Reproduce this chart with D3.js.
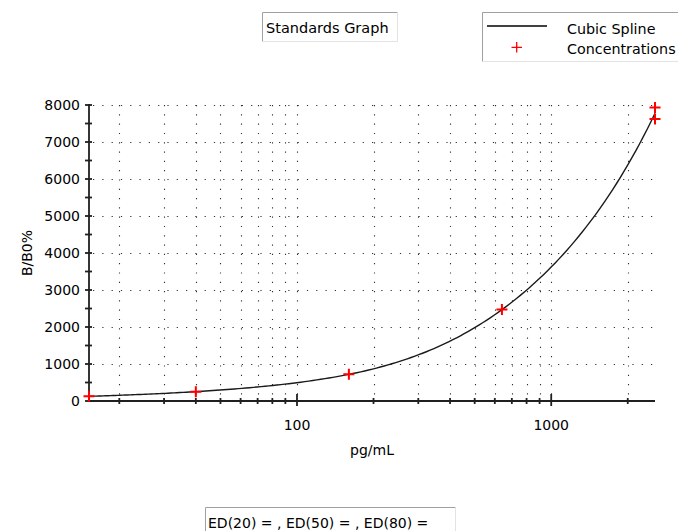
<!DOCTYPE html>
<html>
<head>
<meta charset="utf-8">
<script src="https://cdn.jsdelivr.net/npm/d3@7"></script>
<style>
    html, body { margin: 0; padding: 0; background: #fff; }
    svg { display: block; font-family: "DejaVu Sans", sans-serif; }
</style>
</head>
<body>
<svg id="chart" width="678" height="531"></svg>
<script>
// Standards (pg/mL) and measured response
const stdConc = [15.2, 40, 160, 640, 2560, 2560];
const stdResp = [127, 253, 720, 2470, 7930, 7620];

// Spline knots (replicate mean at the top standard)
const knotConc = [15.2, 40, 160, 640, 2560];
const knotResp = [127, 253, 720, 2470, 7775];

const yTickValues = [0, 1000, 2000, 3000, 4000, 5000, 6000, 7000, 8000];
const yMinorValues = [500, 1500, 2500, 3500, 4500, 5500, 6500, 7500];
const xMajorValues = [100, 1000];
const xMinorValues = [20, 30, 40, 50, 60, 70, 80, 90, 200, 300, 400, 500, 600, 700, 800, 900, 2000];

const titleText = 'Standards Graph';
const legendItems = ['Cubic Spline', 'Concentrations'];
const footerText = 'ED(20) = , ED(50) = , ED(80) =';

const svg = d3.select('#chart');
const axisColor = '#202020';

const x = d3.scaleLog().domain([15.2, 2560]).range([89, 655]);
const y = d3.scaleLinear().domain([0, 8000]).range([401, 105]);

// Sunken-looking text boxes
function box(x0, y0, w, h) {
    const g = svg.append('g');
    g.append('rect').attr('x', x0).attr('y', y0).attr('width', w).attr('height', h).attr('fill', '#fff');
    g.append('path').attr('d', `M${x0},${y0 + h}V${y0}H${x0 + w}`)
        .attr('stroke', '#a0a0a0').attr('fill', 'none');
    g.append('path').attr('d', `M${x0 + w},${y0}V${y0 + h}H${x0}`)
        .attr('stroke', '#e3e3e3').attr('fill', 'none');
    return g;
}

// Title
box(262.5, 12.5, 135, 29);
svg.append('text').attr('x', 266).attr('y', 33).attr('font-size', 14.5).attr('fill', '#000').text(titleText);

// Legend
const lg = box(482.5, 12.5, 210, 49);
lg.append('line').attr('x1', 487).attr('x2', 547).attr('y1', 26).attr('y2', 26)
    .attr('stroke', '#000').attr('stroke-width', 1.3);
lg.append('path').attr('d', 'M511.5,47.3H522M516.7,42V52.5')
    .attr('stroke', '#ff0000').attr('stroke-width', 1.3);
lg.selectAll('text.leg').data(legendItems).join('text')
    .attr('class', 'leg')
    .attr('x', 567).attr('y', (d, i) => 33.5 + i * 20.5)
    .attr('font-size', 14.3).attr('fill', '#000')
    .text(d => d);

// Grid (dotted)
const grid = svg.append('g').attr('stroke', '#303030').attr('stroke-width', 1.1)
    .attr('stroke-dasharray', '1.2,8.1');
grid.selectAll('line.v').data(xMinorValues.concat(xMajorValues)).join('line')
    .attr('class', 'v')
    .attr('x1', d => Math.round(x(d)) + 0.5).attr('x2', d => Math.round(x(d)) + 0.5)
    .attr('y1', y(8000)).attr('y2', y(0));
grid.selectAll('line.h').data(yTickValues.slice(1)).join('line')
    .attr('class', 'h')
    .attr('x1', x.range()[0] + 4).attr('x2', x.range()[1])
    .attr('y1', d => Math.round(y(d)) + 0.5).attr('y2', d => Math.round(y(d)) + 0.5);

// Y axis
const yAxis = svg.append('g').attr('stroke', axisColor).attr('stroke-width', 1.8);
yAxis.append('line').attr('x1', 89).attr('x2', 89).attr('y1', y(8000) - 1).attr('y2', y(0) + 1);
yAxis.selectAll('line.t').data(yTickValues.concat(yMinorValues)).join('line')
    .attr('class', 't')
    .attr('x1', 85).attr('x2', 92)
    .attr('y1', d => y(d)).attr('y2', d => y(d));
svg.append('g').selectAll('text').data(yTickValues).join('text')
    .attr('x', 80).attr('y', d => y(d)).attr('dy', '0.36em')
    .attr('text-anchor', 'end').attr('font-size', 14).attr('fill', '#000')
    .text(d => d);
svg.append('text')
    .attr('transform', 'translate(32,253) rotate(-90)')
    .attr('text-anchor', 'middle').attr('font-size', 14).attr('fill', '#000')
    .text('B/B0%');

// X axis
const xAxis = svg.append('g').attr('stroke', axisColor).attr('stroke-width', 1.8);
xAxis.append('line').attr('x1', x.range()[0]).attr('x2', x.range()[1]).attr('y1', y(0)).attr('y2', y(0));
xAxis.selectAll('line.mi').data(xMinorValues).join('line')
    .attr('class', 'mi')
    .attr('x1', d => x(d)).attr('x2', d => x(d)).attr('y1', y(0) - 3).attr('y2', y(0) + 3);
xAxis.selectAll('line.ma').data(xMajorValues).join('line')
    .attr('class', 'ma')
    .attr('x1', d => x(d)).attr('x2', d => x(d)).attr('y1', y(0) - 7).attr('y2', y(0) + 5);
svg.append('g').selectAll('text').data(xMajorValues).join('text')
    .attr('x', d => x(d)).attr('y', 430)
    .attr('text-anchor', 'middle').attr('font-size', 14).attr('fill', '#000')
    .text(d => d);
svg.append('text')
    .attr('x', (x.range()[0] + x.range()[1]) / 2).attr('y', 455)
    .attr('text-anchor', 'middle').attr('font-size', 14).attr('fill', '#000')
    .text('pg/mL');

// Cubic spline through the standards, fitted in log-log space with d3.curveNatural,
// then mapped back onto the linear response axis
const yLog = d3.scaleLog().domain([100, 10000]).range([1000, 0]);
const splinePts = [];
const recorder = {
    last: null,
    moveTo(a, b) { this.last = [a, b]; splinePts.push([a, b]); },
    lineTo(a, b) { this.last = [a, b]; splinePts.push([a, b]); },
    bezierCurveTo(x1, y1, x2, y2, x3, y3) {
        const [x0, y0] = this.last;
        for (let k = 1; k <= 40; k++) {
            const t = k / 40, u = 1 - t;
            splinePts.push([
                u * u * u * x0 + 3 * u * u * t * x1 + 3 * u * t * t * x2 + t * t * t * x3,
                u * u * u * y0 + 3 * u * u * t * y1 + 3 * u * t * t * y2 + t * t * t * y3
            ]);
        }
        this.last = [x3, y3];
    },
    closePath() {}
};
d3.line().curve(d3.curveNatural).context(recorder)(
    knotConc.map((c, i) => [x(c), yLog(knotResp[i])])
);
svg.append('path')
    .attr('d', d3.line()(splinePts.map(p => [p[0], y(yLog.invert(p[1]))])))
    .attr('fill', 'none').attr('stroke', '#1a1a1a').attr('stroke-width', 1.4);

// Standards markers
svg.append('g').selectAll('path').data(stdConc.map((c, i) => [c, stdResp[i]])).join('path')
    .attr('d', d => {
        const px = x(d[0]), py = y(d[1]);
        return `M${px - 5.5},${py}H${px + 5.5}M${px},${py - 5.5}V${py + 5.5}`;
    })
    .attr('stroke', '#ff0000').attr('stroke-width', 2).attr('fill', 'none');

// Footer
box(205.5, 507.5, 250, 30);
svg.append('text').attr('x', 208).attr('y', 528).attr('font-size', 14).attr('fill', '#000').text(footerText);
</script>
</body>
</html>
